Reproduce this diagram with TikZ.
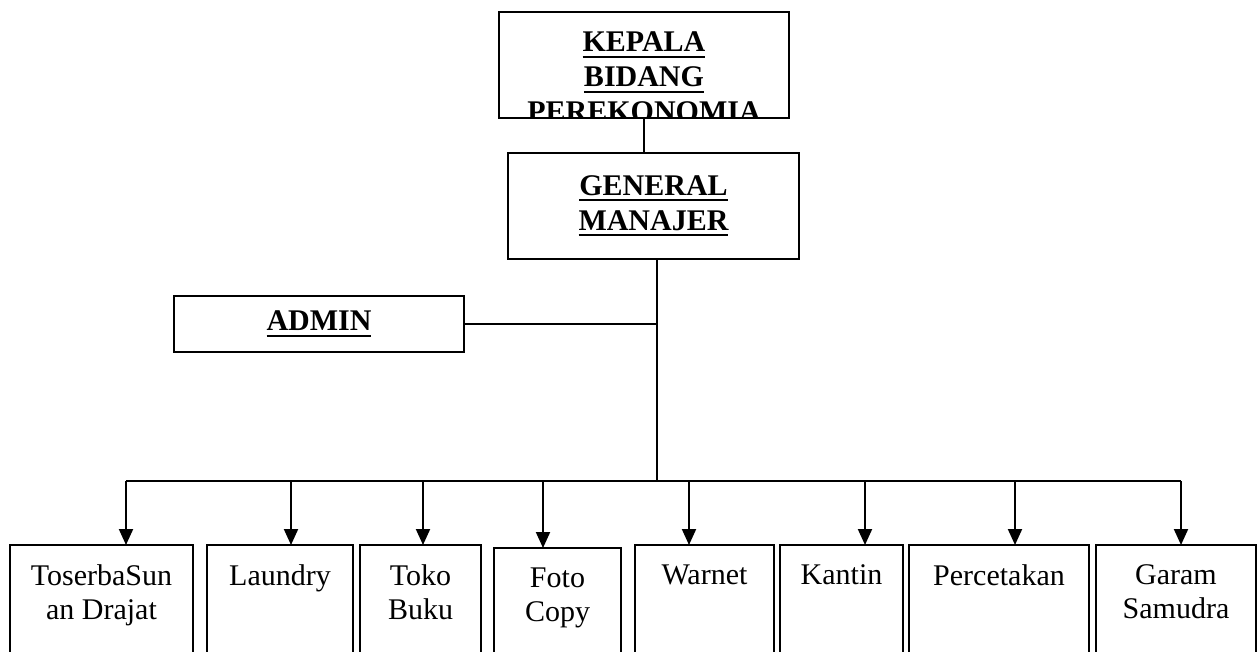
\documentclass[tikz,border=0pt]{standalone}
\usepackage{fontspec}
\setmainfont{Liberation Serif}
\usetikzlibrary{arrows.meta}

\newcommand{\boxtext}[4]{\parbox[t][#2][t]{#1}{\centering\vspace*{#3}#4\par}}
\newcommand{\ulword}[1]{\leavevmode\setbox0\hbox{#1}\rlap{\vrule height -4pt depth 6pt width \wd0}\box0}

\begin{document}
\begin{tikzpicture}[x=1pt,y=-1pt,
    headbox/.style={draw,line width=1.6pt,inner sep=0pt,outer sep=0pt,font=\fontsize{30}{35}\selectfont\bfseries},
    unitbox/.style={draw,line width=1.6pt,inner sep=0pt,outer sep=0pt,anchor=north west,font=\fontsize{30}{34}\selectfont},
    link/.style={line width=2pt},
    down/.style={line width=2pt,-{Triangle[width=14pt,length=16pt]}}]
  \useasboundingbox (0,0) rectangle (1258,652);
  \clip (0,0) rectangle (1258,652);

  % top of the chart
  \begin{scope}
    \clip (498,11) rectangle (790,119);
    \node[headbox,anchor=north west] (kepala) at (499,12) {\boxtext{290pt}{106pt}{20pt}{\ulword{KEPALA}\\\ulword{BIDANG}\\\ulword{PEREKONOMIA}}};
  \end{scope}
  \node[headbox,align=center,minimum width=291pt,minimum height=106pt] (gm) at (653.5,206) {\ulword{GENERAL}\\\ulword{MANAJER}};
  \node[headbox,align=center,minimum width=290pt,minimum height=56pt] (admin) at (319,324) {\ulword{ADMIN}};

  % units
  \node[unitbox] (toserba) at (10,545) {\boxtext{183pt}{150pt}{20pt}{ToserbaSun\\an Drajat}};
  \node[unitbox] (laundry) at (207,545) {\boxtext{146pt}{150pt}{20pt}{Laundry}};
  \node[unitbox] (tokobuku) at (360,545) {\boxtext{121pt}{150pt}{20pt}{Toko\\Buku}};
  \node[unitbox] (fotocopy) at (494,548) {\boxtext{127pt}{150pt}{20pt}{Foto\\Copy}};
  \node[unitbox] (warnet) at (635,545) {\boxtext{139pt}{150pt}{20pt}{Warnet}};
  \node[unitbox] (kantin) at (780,545) {\boxtext{123pt}{150pt}{20pt}{Kantin}};
  \node[unitbox] (percetakan) at (909,545) {\boxtext{180pt}{150pt}{20pt}{Percetakan}};
  \node[unitbox] (garam) at (1096,545) {\boxtext{160pt}{150pt}{20pt}{Garam\\Samudra}};

  % bar points
  \coordinate (trunk) at (657,481);
  \coordinate (b1) at (126,481);
  \coordinate (b2) at (291,481);
  \coordinate (b3) at (423,481);
  \coordinate (b4) at (543,481);
  \coordinate (b5) at (689,481);
  \coordinate (b6) at (865,481);
  \coordinate (b7) at (1015,481);
  \coordinate (b8) at (1181,481);

  \draw[link] (kepala.south) -- (kepala.south |- gm.north);
  \draw[link] (gm.south -| trunk) -- (trunk);
  \draw[link] (admin.east) -- (admin.east -| trunk);
  \draw[link] (b1) -- (b8);

  \draw[down] (b1) -- (b1 |- toserba.north);
  \draw[down] (b2) -- (b2 |- laundry.north);
  \draw[down] (b3) -- (b3 |- tokobuku.north);
  \draw[down] (b4) -- (b4 |- fotocopy.north);
  \draw[down] (b5) -- (b5 |- warnet.north);
  \draw[down] (b6) -- (b6 |- kantin.north);
  \draw[down] (b7) -- (b7 |- percetakan.north);
  \draw[down] (b8) -- (b8 |- garam.north);
\end{tikzpicture}
\end{document}
